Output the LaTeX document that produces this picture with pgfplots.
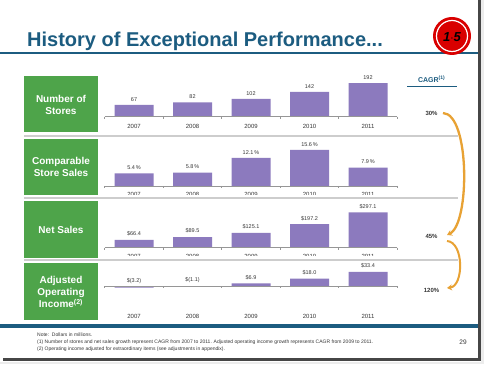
\documentclass[border=0pt]{standalone}
\usepackage{pgfplots}
\pgfplotsset{compat=1.18}
\usepackage{fontspec}
\setmainfont{Liberation Sans}
\usetikzlibrary{arrows.meta}
\definecolor{tblue}{RGB}{28,92,128}
\definecolor{pgreen}{RGB}{78,164,74}
\definecolor{bpurple}{RGB}{140,122,190}
\definecolor{arrorange}{RGB}{232,162,52}
\definecolor{sepgray}{RGB}{205,205,205}
\definecolor{axgray}{RGB}{150,150,150}
\definecolor{txtgray}{RGB}{55,55,55}
\tikzset{yrl/.style={font=\fontsize{6}{7}\selectfont, text=txtgray}}
\pgfplotsset{rowaxis/.style={x=58.5pt, xmin=-0.5, xmax=4.5, axis lines=none, clip=false,
  anchor=south west, enlargelimits=false, ybar, bar width=39pt,
  nodes near coords, point meta=explicit symbolic,
  nodes near coords style={font=\fontsize{5.5}{6}\selectfont, text=txtgray, inner sep=3.5pt}}}
\newcommand{\rowbase}[1]{%
  \draw[axgray, line width=0.6pt] (axis cs:-0.5,0) -- (axis cs:4.5,0);
  \pgfplotsinvokeforeach{-0.5,0.5,1.5,2.5,3.5,4.5}{\draw[axgray, line width=0.6pt] (axis cs:##1,0) -- ++(0pt,-2pt);}
  \node[yrl, yshift=#1] at (axis cs:0,0) {2007};
  \node[yrl, yshift=#1] at (axis cs:1,0) {2008};
  \node[yrl, yshift=#1] at (axis cs:2,0) {2009};
  \node[yrl, yshift=#1] at (axis cs:3,0) {2010};
  \node[yrl, yshift=#1] at (axis cs:4,0) {2011};
}
\begin{document}
\begin{tikzpicture}[x=1pt,y=1pt]
\path[use as bounding box] (0,0) rectangle (484,364);
\fill[white] (0,0) rectangle (484,364);
% frame shadow
\fill[gray!15] (481,0) rectangle (484,364);
\fill[gray!15] (0,0) rectangle (484,2.5);
\draw[gray!55!black, line width=2.5pt] (479.5,364) -- (479.5,4.5) -- (3,4.5);
% title
\node[anchor=base west, text=tblue, font=\bfseries\fontsize{20}{24}\selectfont, inner sep=0pt] at (27,317.5) {History of Exceptional Performance...};
\draw[tblue, line width=2pt] (0,310.5) -- (478,310.5);
% logo
\fill[red!85!black] (452,328) circle (19);
\draw[white, line width=1.2pt] (452,328) circle (15.5);
\node[font=\bfseries\itshape\fontsize{13}{13}\selectfont, text=black] at (452,327) {1$\cdot$5};
% green panels
\fill[pgreen] (24,232) rectangle (98,288);
\fill[pgreen] (24,169) rectangle (98,225);
\fill[pgreen] (24,106) rectangle (98,163);
\fill[pgreen] (24,44) rectangle (98,101);
\begin{scope}[every node/.style={align=center, text=white, font=\bfseries\fontsize{10}{12.3}\selectfont}]
\node at (61,259) {Number of\\Stores};
\node at (61,197) {Comparable\\Store Sales};
\node at (61,134) {Net Sales};
\node at (61,72) {Adjusted\\Operating\\Income\textsuperscript{(2)}};
\end{scope}
% row 1
\begin{axis}[rowaxis, y=0.175pt, ymin=0, ymax=200, at={(104.75pt,247.3pt)}]
\addplot[fill=bpurple, draw=none] coordinates {(0,67)[67] (1,82)[82] (2,102)[102] (3,142)[142] (4,192)[192]};
\rowbase{-9.3pt}
\end{axis}
% row 2
\begin{axis}[rowaxis, y=2.32pt, ymin=0, ymax=16, at={(104.75pt,178pt)}]
\addplot[fill=bpurple, draw=none] coordinates {(0,5.4)[5.4\,\%] (1,5.8)[5.8\,\%] (2,12.1)[12.1\,\%] (3,15.6)[15.6\,\%] (4,7.9)[7.9\,\%]};
\rowbase{-8.5pt}
\end{axis}
% row 3
\begin{axis}[rowaxis, y=0.119pt, ymin=0, ymax=300, at={(104.75pt,116.3pt)}]
\addplot[fill=bpurple, draw=none] coordinates {(0,66.4)[\$66.4] (1,89.5)[\$89.5] (2,125.1)[\$125.1] (3,197.2)[\$197.2] (4,297.1)[\$297.1]};
\rowbase{-8.5pt}
\end{axis}
% row 4
\begin{axis}[rowaxis, y=0.43pt, ymin=-4, ymax=35, at={(104.75pt,75.98pt)}]
\addplot[fill=bpurple, draw=none] coordinates {(0,-3.2)[\$(3.2)] (1,-1.1)[\$(1.1)] (2,6.9)[\$6.9] (3,18.0)[\$18.0] (4,33.4)[\$33.4]};
\rowbase{-30.2pt}
\end{axis}
% covers for clipped year labels
\fill[white] (100,166.3) rectangle (400,169.4);
\fill[white] (100,104.3) rectangle (400,107.8);
% separators
\draw[sepgray, line width=1.2pt] (24,228) -- (458,228);
\draw[sepgray, line width=1.2pt] (24,166) -- (458,166);
\draw[sepgray, line width=1.2pt] (24,104) -- (458,104);
% CAGR
\node[text=tblue, font=\bfseries\fontsize{7}{8}\selectfont] at (431.7,284.7) {CAGR\textsuperscript{(1)}};
\draw[tblue, line width=1.2pt] (407,277.3) -- (457,277.3);
\begin{scope}[every node/.style={font=\bfseries\fontsize{6}{7}\selectfont, text=txtgray}]
\node at (431.5,250.7) {30\%};
\node at (431.5,127.3) {45\%};
\node at (431.5,74) {120\%};
\end{scope}
\draw[arrorange, line width=2.3pt, -{Stealth[length=5pt,width=6pt]}] (443,251) .. controls (470,250) and (470,140) .. (447,129);
\draw[arrorange, line width=2pt, -{Stealth[length=5pt,width=6pt]}] (447,123) .. controls (464,122) and (464,78) .. (447,76);
% bottom rule and notes
\draw[tblue, line width=3.5pt] (0,38) -- (478,38);
\begin{scope}[every node/.style={anchor=west, inner sep=0pt, font=\fontsize{5}{6}\selectfont, text=txtgray}]
\node at (37,29.2) {Note:\ \ Dollars in millions.};
\node at (37,22) {(1) Number of stores and net sales growth represent CAGR from 2007 to 2011. Adjusted operating income growth represents CAGR from 2009 to 2011.};
\node at (37,15) {(2) Operating income adjusted for extraordinary items (see adjustments in appendix).};
\end{scope}
\node[font=\fontsize{6.5}{7}\selectfont, text=txtgray] at (463,21.5) {29};
\end{tikzpicture}
\end{document}
